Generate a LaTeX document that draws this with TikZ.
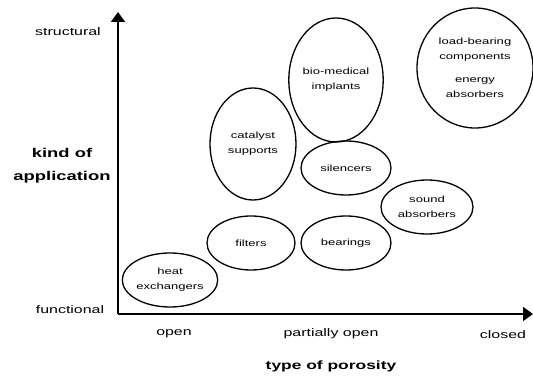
\documentclass[tikz,border=0pt]{standalone}
\usepackage{fontspec}
\setmainfont{Liberation Sans}
\newfontfamily\widefont[FakeStretch=1.45]{Liberation Sans}
\usetikzlibrary{arrows.meta,shapes.geometric}
\begin{document}
\begin{tikzpicture}[x=1pt, y=-1pt,
		use/.style = {ellipse, draw, line width=1.3pt, inner sep=0pt, align=center, font=\widefont\fontsize{9}{15}\selectfont},
		axislabel/.style = {font=\widefont\fontsize{11}{13}\selectfont},
		axistitle/.style = {font=\widefont\bfseries\fontsize{12.7}{23}\selectfont, align=center}]
		\useasboundingbox (0,0) rectangle (533,379);
		% axes
		\coordinate (origin) at (118,314);
		\coordinate (ytop) at (118,12);
		\coordinate (xend) at (533,314);
		\draw [line width=1.8pt, -{Triangle[length=10pt, width=14pt]}] (origin) -- (ytop);
		\draw [line width=1.8pt, -{Triangle[length=10pt, width=14pt]}] (origin) -- (xend);
		\node [axislabel] (structural) at (68,32) {structural};
		\node [axislabel] (functional) at (70,310) {functional};
		\node [axistitle] (kind) at (62,166) {kind of\\application};
		\node [axislabel] (open) at (174,334) {open};
		\node [axislabel] (partial) at (331,334) {partially open};
		\node [axislabel] (closed) at (503,335) {closed};
		\node [axistitle, font=\widefont\bfseries\fontsize{12}{14}\selectfont] (porosity) at (331,366) {type of porosity};
		% fields of application
		\node [use, minimum width=90pt, minimum height=54pt] (heat) at (170,280) {heat\\exchangers};
		\node [use, minimum width=88pt, minimum height=54pt] (filters) at (251,243) {filters};
		\node [use, minimum width=90pt, minimum height=54pt] (bearings) at (346,243) {bearings};
		\node [use, minimum width=92pt, minimum height=54pt] (sound) at (427,207) {sound\\absorbers};
		\node [use, minimum width=90pt, minimum height=54pt] (silencers) at (346,168) {silencers};
		\node [use, minimum width=88pt, minimum height=124pt] (implants) at (336,80) {bio-medical\\implants};
		\node [use, minimum width=86pt, minimum height=112pt] (catalyst) at (253,144) {catalyst\\supports};
		\node [use, minimum width=116pt, minimum height=120pt] (load) at (475,68) {load-bearing\\components\\[8pt]energy\\absorbers};
	\end{tikzpicture}
\end{document}
